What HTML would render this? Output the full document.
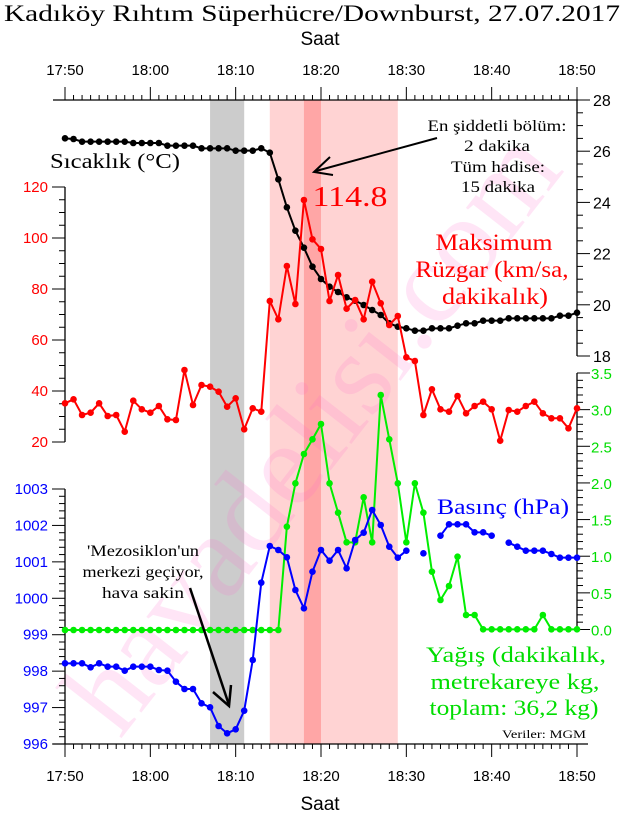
<!DOCTYPE html>
<html><head><meta charset="utf-8"><style>
body{margin:0;background:#fff}
svg{display:block}
.s{font-family:"Liberation Sans",sans-serif}
.r{font-family:"Liberation Serif","DejaVu Serif",serif}
</style></head><body>
<svg id="c" width="625" height="815" xmlns="http://www.w3.org/2000/svg"></svg>
<script>
const X=i=>65+i*512/60;
let s='';
s+=`<rect x="${X(17)}" y="100" width="${X(21)-X(17)}" height="644" fill="#cccccc"/>`;
s+=`<rect x="${X(24)}" y="100" width="${X(39)-X(24)}" height="644" fill="#ffd3d3"/>`;
s+=`<rect x="${X(28)}" y="100" width="${X(30)-X(28)}" height="644" fill="#ffa6a6"/>`;
s+=`<text class="r" x="0" y="0" font-size="120" fill="#ff66cc" opacity="0.16" transform="translate(120,740) rotate(-52)">havadelisi.com</text>`;
s+=`<line x1="53" y1="100" x2="578" y2="100" stroke="#000" stroke-width="1.3"/>`;
s+=`<line x1="53" y1="744" x2="588" y2="744" stroke="#000" stroke-width="1.3"/>`;
for(let i=0;i<=60;i++){const x=X(i),m=i%10==0;
s+=`<line x1="${x}" y1="100" x2="${x}" y2="${m?87:95}" stroke="#000"/>`;
s+=`<line x1="${x}" y1="744" x2="${x}" y2="${m?757:749}" stroke="#000"/>`;
if(m){const t=(i==0?'17:50':'18:'+(i==10?'00':(i-10)));
s+=`<text class="s" x="${x}" y="75" font-size="15" text-anchor="middle">${t}</text>`;
s+=`<text class="s" x="${x}" y="781" font-size="15" text-anchor="middle">${t}</text>`;}}
s+=`<line x1="65" y1="187" x2="65" y2="442" stroke="#000" stroke-width="1.3"/>`;
for(let v=20;v<=120;v+=5){const y=442-(v-20)*2.55,m=v%20==0;
s+=`<line x1="${m?52:59}" y1="${y}" x2="65" y2="${y}" stroke="#000"/>`;
if(m)s+=`<text class="s" x="48" y="${y+5}" font-size="15" fill="#f00" text-anchor="end">${v}</text>`;}
s+=`<line x1="65" y1="489" x2="65" y2="744" stroke="#000" stroke-width="1.3"/>`;
for(let k=0;k<=35;k++){const y=744-k*255/35,m=k%5==0;
s+=`<line x1="${m?52:59}" y1="${y}" x2="65" y2="${y}" stroke="#000"/>`;
if(m)s+=`<text class="s" x="48" y="${y+5}" font-size="15" fill="#00f" text-anchor="end">${996+k/5}</text>`;}
s+=`<line x1="577" y1="100" x2="577" y2="356" stroke="#000" stroke-width="1.3"/>`;
for(let k=0;k<=20;k++){const y=356-k*12.8,m=k%4==0;
s+=`<line x1="577" y1="${y}" x2="${m?590:583}" y2="${y}" stroke="#000"/>`;
if(m)s+=`<text class="s" x="593" y="${y+6}" font-size="16">${18+k/2}</text>`;}
s+=`<line x1="577" y1="373" x2="577" y2="630" stroke="#000" stroke-width="1.3"/>`;
for(let k=0;k<=35;k++){const y=629.5-k*256.5/35,m=k%5==0;
s+=`<line x1="577" y1="${y}" x2="${m?590:583}" y2="${y}" stroke="#000"/>`;
if(m)s+=`<text class="s" x="591" y="${y+6}" font-size="15" fill="#0d0">${(k/10).toFixed(1)}</text>`;}
function series(ys,col,r){let segs=[],cur=[];ys.forEach((y,i)=>{if(y==null){if(cur.length)segs.push(cur);cur=[];}else cur.push([X(i),y]);});if(cur.length)segs.push(cur);
let o='';segs.forEach(sg=>{if(sg.length>1)o+=`<polyline points="${sg.map(p=>p.join(',')).join(' ')}" fill="none" stroke="${col}" stroke-width="2"/>`;sg.forEach(p=>o+=`<circle cx="${p[0]}" cy="${p[1]}" r="${r}" fill="${col}"/>`);});return o;}
const tz=[175,177,185,185,185,185,185,185,189,189,189,189,197,197,197,197,205,205,205,205,212,212,212,205,218,298,382,452,503,560,597,620,636,652,662,675,690,705,730,740,745,752,752,745,745,745,737,730,730,722,722,722,715,715,715,715,715,715,707,707,698];
const T=tz.map(z=>80+z/3);
const W=[403.3,399.3,415,412.7,403.3,416,415,431.7,400.7,409.3,412.7,406,419.3,420,370,405,385,386.7,391.7,406.7,398.3,429.3,408.3,411.7,301,319.3,266,304,200,239.3,249,301,275,308.7,300,319.3,281.7,303.3,325,316,357.3,361,415,389.3,409.3,411.7,396,413.3,406,401.7,409.3,440.7,410,411.7,406,401.7,413.3,418.3,418.3,428.3,408.3];
const gz=[];for(let i=0;i<26;i++)gz.push(780);
gz.push(470,340,252,208,162,340,428,517,517,382,517,75,208,340,517,340,428,605,690,648,560,735,735);
for(let i=49;i<=60;i++)gz.push(i==56?735:778);
const G=gz.map(z=>370+z/3);
const pz=[880,880,880,892,880,890,890,902,890,890,890,900,902,935,957,957,1000,1012,1068,1090,1078,1022,870,638,528,540,562,660,715,605,540,572,540,595,510,488,420,465,530,563,542,null,550,null,497,463,463,463,487,487,497,null,518,530,542,542,542,552,563,563,563];
const P=pz.map(z=>z==null?null:370+z/3);
s+=series(T,'#000',3.3)+series(W,'#f00',3.3)+series(G,'#0e0',3.3)+series(P,'#00f',3.3);
s+=`<line x1="437" y1="138" x2="316" y2="171" stroke="#000" stroke-width="2"/><polyline points="330,157 314,172 333,175" fill="none" stroke="#000" stroke-width="2"/>`;
s+=`<line x1="190" y1="588" x2="229" y2="705" stroke="#000" stroke-width="2.5"/><polyline points="213,692 229,706 231,685" fill="none" stroke="#000" stroke-width="2.5"/>`;
function t(str,cx,y,fs,len,col){return `<text class="r" x="${cx}" y="${y}" font-size="${fs}" fill="${col||'#000'}" text-anchor="middle" textLength="${len}" lengthAdjust="spacingAndGlyphs">${str}</text>`;}
s+=t('Kadıköy Rıhtım Süperhücre/Downburst, 27.07.2017',312,21,23,616);
s+=`<text class="s" x="320" y="45" font-size="19" text-anchor="middle">Saat</text>`;
s+=`<text class="s" x="320" y="810" font-size="19" text-anchor="middle">Saat</text>`;
s+=t('Sıcaklık (°C)',115,168,21,130);
s+=t('114.8',350,206,29,75,'#f00');
s+=t('En şiddetli bölüm:',497,131,16,139);
s+=t('2 dakika',497,151,16,66);
s+=t('Tüm hadise:',498,172,16,94);
s+=t('15 dakika',498,192,16,74);
s+=t('Maksimum',494,250,23,117,'#f00');
s+=t('Rüzgar (km/sa,',492,277,23,153,'#f00');
s+=t('dakikalık)',495,304,23,106,'#f00');
s+=t('Basınç (hPa)',503,514,22,132,'#00f');
s+=t('Yağış (dakikalık,',516,662,22,180,'#0d0');
s+=t('metrekareye kg,',515,689,22,169,'#0d0');
s+=t('toplam: 36,2 kg)',514,715,22,169,'#0d0');
s+=t('Veriler: MGM',544,738,12,84);
s+=t("'Mezosiklon'un",143,556,16,112);
s+=t('merkezi geçiyor,',143,577,16,121);
s+=t('hava sakin',143,598,16,82);
document.getElementById('c').innerHTML=s;
</script>
</body></html>
